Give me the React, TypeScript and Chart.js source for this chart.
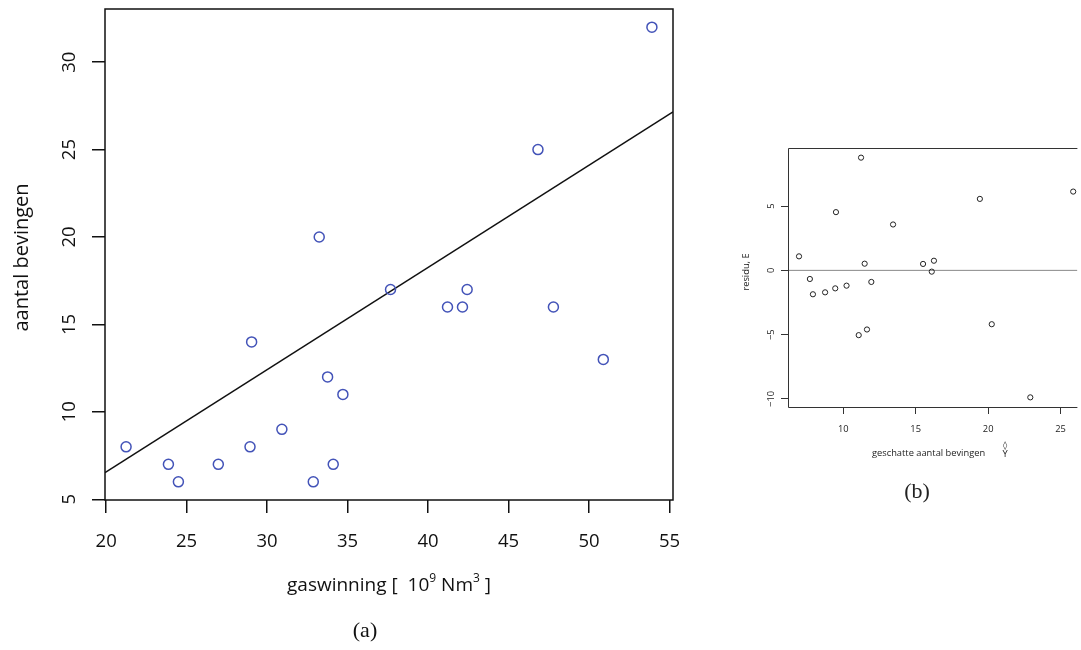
import React, { useEffect, useRef } from "react";
import { Chart, registerables } from "chart.js";

Chart.register(...registerables);

// ---------- (a) scatter: gas production vs number of earthquakes ----------
const gasProduction = [21.24, 23.87, 24.49, 26.97, 28.94, 29.04, 30.92, 32.87, 33.24, 33.76, 34.11, 34.71, 37.67, 41.21, 42.14, 42.43, 46.83, 47.79, 50.89, 53.91];
const quakeCounts = [8, 7, 6, 7, 8, 14, 9, 6, 20, 12, 7, 11, 17, 16, 16, 17, 25, 16, 13, 32];
const fitLineX = [19.93, 55.22];
const fitLineY = [6.52, 27.16];
const xTicksA = [20, 25, 30, 35, 40, 45, 50, 55];
const yTicksA = [5, 10, 15, 20, 25, 30];
const xRangeA = [19.93, 55.22];
const yRangeA = [4.96, 33.04];

// ---------- (b) residual plot ----------
const fittedCounts = [6.95, 7.7, 7.91, 8.75, 9.45, 9.5, 10.23, 11.07, 11.23, 11.48, 11.64, 11.94, 13.44, 15.51, 16.11, 16.26, 19.43, 20.25, 22.91, 25.87];
const residuals = [1.09, -0.67, -1.86, -1.71, -1.4, 4.53, -1.19, -5.04, 8.77, 0.52, -4.6, -0.9, 3.57, 0.5, -0.1, 0.75, 5.56, -4.19, -9.88, 6.13];
const zeroLineX = [6.19, 26.16];
const zeroLineY = [0, 0];
const xTicksB = [10, 15, 20, 25];
const yTicksB = [-10, -5, 0, 5];
const xRangeB = [6.19, 26.16];
const yRangeB = [-10.63, 9.52];

const SANS = '"Open Sans", "DejaVu Sans", sans-serif';
const SERIF = '"Liberation Serif", "DejaVu Serif", serif';

const fmt = (v: number) => (v < 0 ? "\u2212" + Math.abs(v) : String(v));

function rotatedText(ctx: CanvasRenderingContext2D, text: string, x: number, y: number) {
  ctx.save();
  ctx.translate(x, y);
  ctx.rotate(-Math.PI / 2);
  ctx.fillText(text, 0, 0);
  ctx.restore();
}

const plotA = {
  id: "plotA",
  afterDraw(chart: any) {
    const ctx: CanvasRenderingContext2D = chart.ctx;
    const { left, right, top, bottom } = chart.chartArea;
    const xs = chart.scales.x;
    const ys = chart.scales.y;
    ctx.save();
    ctx.strokeStyle = "#111";
    ctx.lineWidth = 1.5;
    ctx.strokeRect(left, top, right - left, bottom - top);

    ctx.fillStyle = "#111";
    ctx.font = `18.5px ${SANS}`;
    ctx.textAlign = "center";
    ctx.textBaseline = "alphabetic";
    xTicksA.forEach((v) => ctx.fillText(fmt(v), xs.getPixelForValue(v), 547));
    yTicksA.forEach((v) => rotatedText(ctx, fmt(v), 75, ys.getPixelForValue(v)));

    ctx.font = `20px ${SANS}`;
    rotatedText(ctx, "aantal bevingen", 28, (top + bottom) / 2 + 3);

    // x title with superscripts
    const parts = [
      { t: "gaswinning [  10", sup: false },
      { t: "9", sup: true },
      { t: " Nm", sup: false },
      { t: "3", sup: true },
      { t: " ]", sup: false },
    ];
    const widths = parts.map((p) => {
      ctx.font = p.sup ? `12px ${SANS}` : `19px ${SANS}`;
      return ctx.measureText(p.t).width;
    });
    const total = widths.reduce((s, w) => s + w, 0);
    let cx = (left + right) / 2 - total / 2;
    ctx.textAlign = "left";
    parts.forEach((p, i) => {
      ctx.font = p.sup ? `12px ${SANS}` : `19px ${SANS}`;
      ctx.fillText(p.t, cx, p.sup ? 582 : 591);
      cx += widths[i];
    });

    ctx.font = `22px ${SERIF}`;
    ctx.textAlign = "center";
    ctx.fillText("(a)", 365, 637);
    ctx.restore();
  },
};

const plotB = {
  id: "plotB",
  afterDraw(chart: any) {
    const ctx: CanvasRenderingContext2D = chart.ctx;
    const { left, right, top, bottom } = chart.chartArea;
    const xs = chart.scales.x;
    const ys = chart.scales.y;
    ctx.save();
    ctx.strokeStyle = "#333";
    ctx.lineWidth = 1;
    ctx.beginPath();
    ctx.moveTo(right, top + 0.5);
    ctx.lineTo(left + 0.5, top + 0.5);
    ctx.lineTo(left + 0.5, bottom + 0.5);
    ctx.lineTo(right, bottom + 0.5);
    ctx.stroke();

    ctx.fillStyle = "#222";
    ctx.font = `9.3px ${SANS}`;
    ctx.textAlign = "center";
    ctx.textBaseline = "alphabetic";
    xTicksB.forEach((v) => ctx.fillText(fmt(v), xs.getPixelForValue(v), 432));
    yTicksB.forEach((v) => rotatedText(ctx, fmt(v), 74, ys.getPixelForValue(v)));
    rotatedText(ctx, "residu, E", 49, 272);

    ctx.textAlign = "left";
    const title = "geschatte aantal bevingen";
    ctx.fillText(title, 172, 456);
    ctx.textAlign = "center";
    ctx.fillText("Y", 305, 456.5);
    ctx.font = `8.5px "DejaVu Sans", sans-serif`;
    ctx.fillText("\u25CA", 305, 447.5);

    ctx.font = `22px ${SERIF}`;
    ctx.fillText("(b)", 217, 498);
    ctx.restore();
  },
};

export default function App() {
  const aRef = useRef<HTMLCanvasElement>(null);
  const bRef = useRef<HTMLCanvasElement>(null);

  useEffect(() => {
    const scatterA = gasProduction.map((x, i) => ({ x, y: quakeCounts[i] }));
    const lineA = fitLineX.map((x, i) => ({ x, y: fitLineY[i] }));
    const chartA = new Chart(aRef.current as HTMLCanvasElement, {
      type: "scatter",
      data: {
        datasets: [
          {
            type: "scatter",
            data: scatterA,
            pointRadius: 5,
            pointBorderWidth: 1.5,
            pointBorderColor: "#4353B8",
            pointBackgroundColor: "rgba(0,0,0,0)",
            pointHoverRadius: 5,
          },
          {
            type: "line",
            data: lineA,
            borderColor: "#111",
            borderWidth: 1.5,
            pointRadius: 0,
            showLine: true,
            fill: false,
          },
        ],
      } as any,
      options: {
        responsive: false,
        animation: false,
        layout: { padding: { left: 0, top: 9, right: 27, bottom: 0 } },
        plugins: { legend: { display: false }, tooltip: { enabled: false } },
        events: [],
        scales: {
          x: {
            type: "linear",
            min: xRangeA[0],
            max: xRangeA[1],
            afterFit: (s: any) => {
              s.height = 150;
            },
            afterBuildTicks: (s: any) => {
              s.ticks = xTicksA.map((value) => ({ value }));
            },
            ticks: { display: false },
            grid: { drawOnChartArea: false, drawTicks: true, tickLength: 13, color: "#111", lineWidth: 1.5 },
            border: { display: false },
          },
          y: {
            type: "linear",
            min: yRangeA[0],
            max: yRangeA[1],
            afterFit: (s: any) => {
              s.width = 105;
            },
            afterBuildTicks: (s: any) => {
              s.ticks = yTicksA.map((value) => ({ value }));
            },
            ticks: { display: false },
            grid: { drawOnChartArea: false, drawTicks: true, tickLength: 13, color: "#111", lineWidth: 1.5 },
            border: { display: false },
          },
        },
      } as any,
      plugins: [plotA],
    });

    const scatterB = fittedCounts.map((x, i) => ({ x, y: residuals[i] }));
    const lineB = zeroLineX.map((x, i) => ({ x, y: zeroLineY[i] }));
    const chartB = new Chart(bRef.current as HTMLCanvasElement, {
      type: "scatter",
      data: {
        datasets: [
          {
            type: "scatter",
            data: scatterB,
            pointRadius: 2.6,
            pointBorderWidth: 1,
            pointBorderColor: "#222",
            pointBackgroundColor: "rgba(0,0,0,0)",
            pointHoverRadius: 2.6,
          },
          {
            type: "line",
            data: lineB,
            borderColor: "#888",
            borderWidth: 1,
            pointRadius: 0,
            showLine: true,
            fill: false,
          },
        ],
      } as any,
      options: {
        responsive: false,
        animation: false,
        layout: { padding: { left: 0, top: 148, right: 0, bottom: 0 } },
        plugins: { legend: { display: false }, tooltip: { enabled: false } },
        events: [],
        scales: {
          x: {
            type: "linear",
            min: xRangeB[0],
            max: xRangeB[1],
            afterFit: (s: any) => {
              s.height = 243;
            },
            afterBuildTicks: (s: any) => {
              s.ticks = xTicksB.map((value) => ({ value }));
            },
            ticks: { display: false },
            grid: { drawOnChartArea: false, drawTicks: true, tickLength: 7, color: "#333", lineWidth: 1 },
            border: { display: false },
          },
          y: {
            type: "linear",
            min: yRangeB[0],
            max: yRangeB[1],
            afterFit: (s: any) => {
              s.width = 88;
            },
            afterBuildTicks: (s: any) => {
              s.ticks = yTicksB.map((value) => ({ value }));
            },
            ticks: { display: false },
            grid: { drawOnChartArea: false, drawTicks: true, tickLength: 7, color: "#333", lineWidth: 1 },
            border: { display: false },
          },
        },
      } as any,
      plugins: [plotB],
    });

    return () => {
      chartA.destroy();
      chartB.destroy();
    };
  }, []);

  return (
    <div
      style={{
        position: "absolute",
        left: 0,
        top: 0,
        width: 1081,
        height: 650,
        background: "#fff",
        overflow: "hidden",
      }}
    >
      <canvas ref={aRef} width={700} height={650} style={{ position: "absolute", left: 0, top: 0 }} />
      <canvas ref={bRef} width={381} height={650} style={{ position: "absolute", left: 700, top: 0 }} />
    </div>
  );
}
